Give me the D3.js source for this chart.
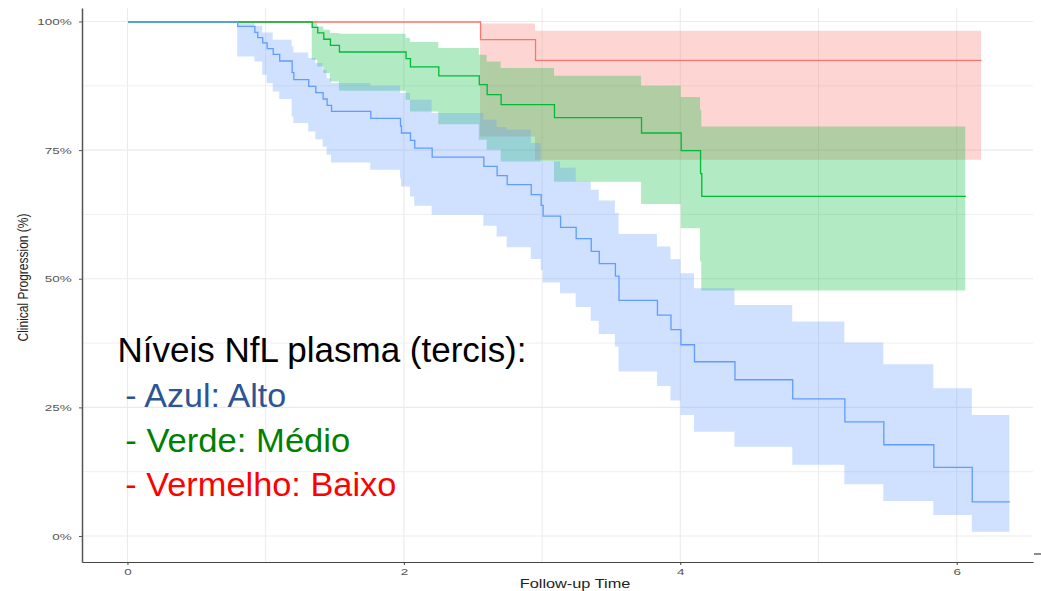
<!DOCTYPE html>
<html>
<head>
<meta charset="utf-8">
<script src="https://cdn.jsdelivr.net/npm/d3@7"></script>
<style>
  html, body { margin: 0; padding: 0; background: #ffffff; }
  svg { display: block; }
</style>
</head>
<body>
<svg id="chart" width="1041" height="591"></svg>
<script>
// ---------------- DATA ----------------
// Kaplan-Meier style step curves, time in follow-up units, values in %
const blueTime  = [0.794, 0.918, 0.939, 0.975, 1.007, 1.051, 1.098, 1.188, 1.200, 1.308, 1.359, 1.412, 1.441, 1.473, 1.757, 1.972, 1.979, 2.044, 2.075, 2.201, 2.575, 2.671, 2.744, 2.918, 2.990, 3.004, 3.130, 3.243, 3.352, 3.410, 3.527, 3.553, 3.831, 3.929, 4.001, 4.099, 4.392, 4.810, 5.187, 5.469, 5.831, 6.109];
const blueSurv  = [99.16, 97.99, 96.97, 95.92, 94.83, 93.72, 92.42, 90.16, 88.80, 87.50, 86.27, 85.03, 83.80, 82.64, 81.28, 79.78, 78.42, 77.00, 75.50, 73.75, 71.94, 70.13, 68.38, 66.44, 64.36, 62.28, 60.08, 57.88, 55.42, 53.02, 50.61, 45.89, 43.03, 40.19, 37.27, 33.97, 30.47, 26.77, 22.30, 17.83, 13.42, 6.75];
const blueUpper = [100.0, 99.16, 99.16, 97.86, 97.86, 96.44, 96.44, 95.14, 93.97, 92.88, 91.91, 90.61, 88.99, 88.02, 87.50, 86.08, 86.08, 84.78, 84.78, 82.19, 80.89, 79.47, 78.94, 76.36, 72.78, 72.78, 71.56, 68.89, 67.28, 65.20, 62.80, 58.72, 56.25, 53.80, 51.08, 48.16, 44.92, 41.67, 37.59, 33.39, 28.72, 23.53];
const blueLower = [93.20, 92.22, 92.22, 89.64, 88.02, 86.39, 84.91, 81.53, 80.25, 78.61, 77.13, 75.70, 74.08, 72.58, 71.16, 69.55, 67.92, 65.97, 64.17, 62.42, 60.28, 58.20, 56.14, 53.86, 51.72, 49.25, 47.19, 44.53, 41.86, 39.28, 36.81, 31.95, 29.17, 26.35, 23.53, 20.28, 17.36, 13.86, 10.05, 6.81, 4.08, 0.84];
const blueEnd   = 6.381;

const greenTime  = [1.333, 1.373, 1.417, 1.465, 1.530, 2.012, 2.044, 2.249, 2.542, 2.599, 2.700, 3.086, 3.716, 4.003, 4.143, 4.152];
const greenSurv  = [98.97, 97.90, 96.64, 95.47, 94.17, 92.88, 91.29, 89.54, 87.83, 85.90, 83.94, 81.41, 78.42, 75.00, 70.52, 66.11];
const greenUpper = [100.0, 99.02, 98.39, 97.74, 97.61, 96.77, 95.99, 94.83, 93.53, 92.22, 90.94, 89.44, 87.50, 85.30, 82.83, 79.58];
const greenLower = [92.55, 91.24, 89.97, 88.33, 86.53, 84.78, 82.49, 80.05, 77.00, 75.05, 72.78, 68.83, 64.55, 59.83, 53.34, 47.70];
const greenEnd   = 6.062;

const redTime  = [2.551, 2.949];
const redSurv  = [96.58, 92.55];
const redUpper = [99.60, 98.19];
const redLower = [77.64, 73.11];
const redEnd   = 6.176;

const xTicks = [0, 2, 4, 6];
const xMinor = [1, 3, 5];
const yTicks = [0, 25, 50, 75, 100];
const yMinor = [12.5, 37.5, 62.5, 87.5];

const xTitle = "Follow-up Time";
const yTitle = "Clinical Progression (%)";
const legendTitle = "Níveis NfL plasma (tercis):";
const legendLines = ["- Azul: Alto", "- Verde: Médio", "- Vermelho: Baixo"];
const legendColors = ["#2E5593", "#008000", "#FF0000"];

// ---------------- LAYOUT ----------------
const svg = d3.select("#chart");
svg.append("rect").attr("width", 1041).attr("height", 591).attr("fill", "#ffffff");

const x = d3.scaleLinear().domain([-0.329, 6.552]).range([82, 1033]);
const y = d3.scaleLinear().domain([-5.05, 102.62]).range([562, 8]);

const FONT = "'Liberation Sans', Arial, Helvetica, sans-serif";
const STRETCH = 1.45; // the chart picture is horizontally stretched

// grid
const grid = svg.append("g");
grid.selectAll("line.vmin").data(xMinor).join("line")
  .attr("x1", d => x(d)).attr("x2", d => x(d))
  .attr("y1", y.range()[1]).attr("y2", y.range()[0])
  .attr("stroke", "#ebebeb").attr("stroke-width", 1);
grid.selectAll("line.vmaj").data(xTicks).join("line")
  .attr("x1", d => x(d)).attr("x2", d => x(d))
  .attr("y1", y.range()[1]).attr("y2", y.range()[0])
  .attr("stroke", "#ebebeb").attr("stroke-width", 1.1);
grid.selectAll("line.hmin").data(yMinor).join("line")
  .attr("x1", x.range()[0]).attr("x2", x.range()[1])
  .attr("y1", d => y(d)).attr("y2", d => y(d))
  .attr("stroke", "#efefef").attr("stroke-width", 1);
grid.selectAll("line.hmaj").data(yTicks).join("line")
  .attr("x1", x.range()[0]).attr("x2", x.range()[1])
  .attr("y1", d => y(d)).attr("y2", d => y(d))
  .attr("stroke", "#ebebeb").attr("stroke-width", 1.1);

// series
function buildSeries(times, surv, upper, lower, end) {
  const pts = [{ t: 0, s: 100, u: 100, l: 100 }];
  times.forEach((t, i) => pts.push({ t: t, s: surv[i], u: upper[i], l: lower[i] }));
  const last = pts[pts.length - 1];
  pts.push({ t: end, s: last.s, u: last.u, l: last.l });
  return pts;
}
const series = [
  { color: "#F8766D", pts: buildSeries(redTime, redSurv, redUpper, redLower, redEnd) },
  { color: "#00BA38", pts: buildSeries(greenTime, greenSurv, greenUpper, greenLower, greenEnd) },
  { color: "#619CFF", pts: buildSeries(blueTime, blueSurv, blueUpper, blueLower, blueEnd) }
];

const area = d3.area()
  .x(d => x(d.t)).y0(d => y(d.l)).y1(d => y(d.u))
  .curve(d3.curveStepAfter);
const line = d3.line()
  .x(d => x(d.t)).y(d => y(d.s))
  .curve(d3.curveStepAfter);

const bands = svg.append("g");
series.forEach(s => {
  bands.append("path").attr("d", area(s.pts))
    .attr("fill", s.color).attr("fill-opacity", 0.3).attr("stroke", "none");
});
const lines = svg.append("g").attr("transform", "translate(0.5,0.5)");
series.forEach(s => {
  lines.append("path").attr("d", line(s.pts))
    .attr("fill", "none").attr("stroke", s.color).attr("stroke-width", 1.3);
});

// axes
const xAxis = svg.append("g").attr("transform", `translate(0,${y.range()[0]})`)
  .call(d3.axisBottom(x).tickValues(xTicks).tickFormat(d3.format("d")).tickSize(3).tickSizeOuter(0));
xAxis.select(".domain").attr("stroke", "#444").attr("stroke-width", 1.2);
xAxis.selectAll(".tick line").attr("stroke", "#444");
xAxis.selectAll(".tick text")
  .attr("y", 13).attr("dy", null)
  .attr("transform", `scale(${STRETCH},1)`)
  .attr("fill", "#555").style("font-family", FONT).style("font-size", "9.3px");

const yAxis = svg.append("g").attr("transform", `translate(${x.range()[0]},0)`)
  .call(d3.axisLeft(y).tickValues(yTicks).tickFormat(d => d + "%").tickSize(3).tickSizeOuter(0));
yAxis.select(".domain").attr("stroke", "#555").attr("stroke-width", 1.5);
yAxis.selectAll(".tick line").attr("stroke", "#555");
yAxis.selectAll(".tick text")
  .attr("x", -10.3 / STRETCH)
  .attr("transform", `scale(${STRETCH},1)`)
  .attr("fill", "#555").style("font-family", FONT).style("font-size", "9.3px");

// small mark at the bottom right of the picture
svg.append("line").attr("x1", 1034).attr("x2", 1041).attr("y1", 554).attr("y2", 554)
  .attr("stroke", "#666").attr("stroke-width", 1.5);

// axis titles
svg.append("text")
  .attr("transform", `translate(575,587.5) scale(1.36,1)`)
  .attr("text-anchor", "middle")
  .style("font-family", FONT).style("font-size", "12px").attr("fill", "#222")
  .text(xTitle);
svg.append("text")
  .attr("transform", `translate(28,277.5) scale(1.2,1) rotate(-90)`)
  .attr("text-anchor", "middle")
  .style("font-family", FONT).style("font-size", "12px").attr("fill", "#222")
  .text(yTitle);

// annotation / legend text
const leg = svg.append("g");
leg.append("text")
  .attr("x", 117.5).attr("y", 361.7)
  .attr("textLength", 409).attr("lengthAdjust", "spacingAndGlyphs")
  .style("font-family", FONT).style("font-size", "35px").attr("fill", "#000")
  .text(legendTitle);
const legWidths = [161, 225, 271];
const legBase = [406.7, 451.7, 495.5];
legendLines.forEach((t, i) => {
  leg.append("text")
    .attr("x", 125.3).attr("y", legBase[i])
    .attr("textLength", legWidths[i]).attr("lengthAdjust", "spacingAndGlyphs")
    .style("font-family", FONT).style("font-size", "34px").attr("fill", legendColors[i])
    .text(t);
});
</script>
</body>
</html>
